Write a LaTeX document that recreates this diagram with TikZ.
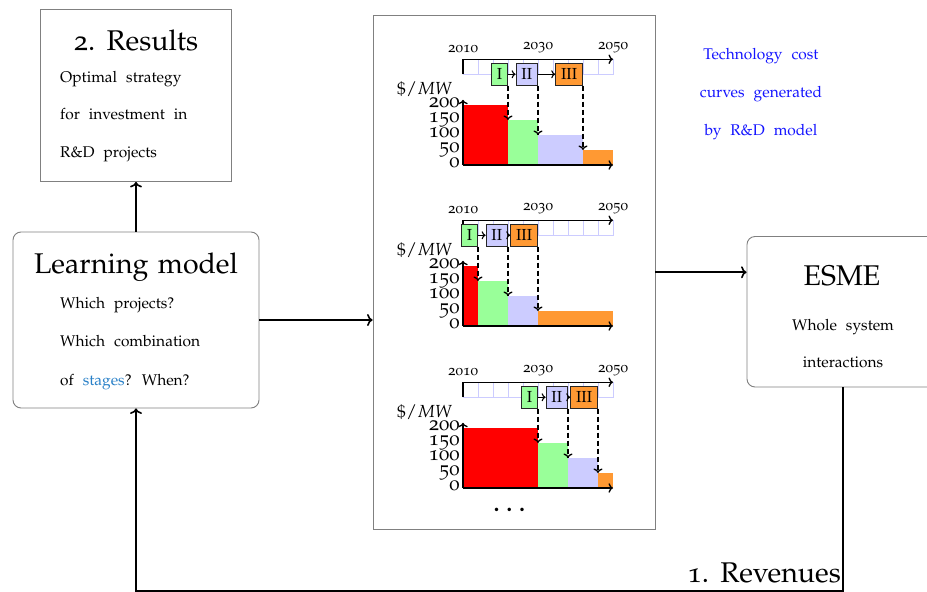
\documentclass[tikz,border=0pt]{standalone}
\usepackage[T1]{fontenc}
\usepackage[osf]{mathpazo}
\usetikzlibrary{arrows.meta}
\definecolor{cred}{RGB}{255,0,0}
\definecolor{cgreen}{RGB}{153,255,153}
\definecolor{clav}{RGB}{204,204,255}
\definecolor{corange}{RGB}{255,153,51}
\definecolor{boxgray}{RGB}{128,128,128}
\definecolor{stagesblue}{RGB}{40,128,200}
\definecolor{techblue}{RGB}{20,20,255}
\newcommand\titlefont{\fontsize{28.5}{30}\selectfont\spaceskip 0.33em\relax}
\newcommand\bodyfont{\fontsize{15.5}{18}\selectfont\spaceskip 9pt\relax}
\tikzset{
  frame/.style={draw=boxgray, line width=0.9pt, inner sep=0pt},
  rframe/.style={frame, rounded corners=8pt},
  conn/.style={line width=1.6pt, -{Computer Modern Rightarrow[length=5.5pt, width=12pt]}},
  titletext/.style={font=\titlefont, inner sep=0pt, anchor=base},
  bodytext/.style={font=\bodyfont, inner sep=0pt, anchor=base west},
  bodyctext/.style={bodytext, anchor=base},
  techtext/.style={bodyctext, text=techblue},
  cell/.style={draw=clav, line width=0.8pt},
  axis/.style={line width=1.3pt, -{Computer Modern Rightarrow[length=4.5pt, width=9.5pt]}},
  year/.style={font=\fontsize{15}{15}\selectfont, inner sep=0pt, anchor=south, yshift=6.5pt},
  ticklab/.style={font=\fontsize{20.5}{21}\selectfont, inner sep=0pt, anchor=mid east},
  unitlab/.style={font=\fontsize{17.5}{18}\selectfont, inner sep=0pt, anchor=base},
  stagebox/.style={draw=black!85, line width=0.6pt, font=\fontsize{16}{16}\selectfont,
    inner xsep=5.5pt, inner ysep=0pt, minimum height=22pt, anchor=east},
  stagearrow/.style={line width=1.1pt, -{Computer Modern Rightarrow[length=4pt, width=8pt]}},
  dasharrow/.style={line width=1.3pt, dash pattern=on 5pt off 3pt,
    -{Computer Modern Rightarrow[length=4.5pt, width=9pt]}},
}
\newcommand\rdchart[5]{%
\begin{scope}[shift={(463,#2)}, x=15pt, y=15pt]
  \fill[cred] (0,0) rectangle (#3,4);
  \fill[cgreen] (#3,0) rectangle (#4,3);
  \fill[clav] (#4,0) rectangle (#5,2);
  \fill[corange] (#5,0) rectangle (10,1);
  \foreach \i in {0,...,9} \draw[cell] (\i,6.05) rectangle ++(1,1);
  \draw[axis] (0,6.05) -- (0,7.05) -- (10,7.05);
  \node[year] (#1ya) at (0,7.05) {2010};
  \node[year] (#1yb) at (5,7.05) {2030};
  \node[year] (#1yc) at (10,7.05) {2050};
  \draw[axis] (0,0) -- (0,4.35);
  \draw[axis] (0,0) -- (10,0);
  \node[ticklab] (#1ta) at (-0.22,0) {0};
  \node[ticklab] (#1tb) at (-0.22,1) {50};
  \node[ticklab] (#1tc) at (-0.22,2) {100};
  \node[ticklab] (#1td) at (-0.22,3) {150};
  \node[ticklab] (#1te) at (-0.22,4) {200};
  \node[unitlab] (#1u) at (-2.55,4.67) {$\$/MW$};
  \node[stagebox, fill=cgreen] (#1s1) at (#3,6.05) {I};
  \node[stagebox, fill=clav] (#1s2) at (#4,6.05) {II};
  \node[stagebox, fill=corange] (#1s3) at (#5,6.05) {III};
  \draw[stagearrow] (#1s1) -- (#1s2);
  \draw[stagearrow] (#1s2) -- (#1s3);
  \coordinate (#1b1) at (#3,3);
  \coordinate (#1b2) at (#4,2);
  \coordinate (#1b3) at (#5,1);
  \draw[dasharrow] (#1s1.south east) -- (#1b1);
  \draw[dasharrow] (#1s2.south east) -- (#1b2);
  \draw[dasharrow] (#1s3.south east) -- (#1b3);
\end{scope}}
\begin{document}
\begin{tikzpicture}[x=1pt, y=-1pt]
\useasboundingbox (0,0) rectangle (927,592);
\clip (0,0) rectangle (927,592);
\fill[white] (0,0) rectangle (927,592);

% boxes
\node[frame, minimum width=191pt, minimum height=172pt] (res) at (136,95.5) {};
\node[rframe, minimum width=246pt, minimum height=176pt] (learn) at (136,320) {};
\node[frame, minimum width=282pt, minimum height=513.5pt] (big) at (514,272.25) {};
\node[rframe, minimum width=192pt, minimum height=150.5pt] (esme) at (843,311.75) {};

% Results text
\node[titletext] (restitle) at (136,50) {2. Results};
\node[bodytext] (res1) at (60,82) {Optimal strategy};
\node[bodytext] (res2) at (60,119.5) {for investment in};
\node[bodytext] (res3) at (60,157) {R\&D projects};

% Learning model text
\node[titletext] (learntitle) at (136,273.3) {Learning model};
\node[bodytext] (learn1) at (60,308.3) {Which projects?};
\node[bodytext] (learn2) at (60,346.5) {Which combination};
\node[bodytext] (learn3) at (60,385) {of \textcolor{stagesblue}{stages}? When?};

% ESME text
\node[titletext] (esmetitle) at (842,285) {ESME};
\node[bodyctext] (esme1) at (843,330) {Whole system};
\node[bodyctext] (esme2) at (843,367) {interactions};

% technology text
\node[techtext] (tech1) at (761,59) {Technology cost};
\node[techtext] (tech2) at (761,97) {curves generated};
\node[techtext] (tech3) at (761,135) {by R\&D model};

% charts
\rdchart{ca}{165}{3}{5}{8}
\rdchart{cb}{326}{1}{3}{5}
\rdchart{cc}{488}{5}{7}{9}
\node[font=\fontsize{30}{30}\selectfont, inner sep=0pt, anchor=base] (dots) at (512,511) {\ldots};

% connectors
\draw[conn] (learn.north) -- (res.south);
\draw[conn] (learn.east) -- (learn.east -| big.west);
\draw[conn] (big.east) -- (big.east -| esme.west);
\draw[conn] (esme.south) -- ++(0,203.5) -| (learn.south);
\node[titletext, anchor=base east] (rev) at (841,582.5) {1. Revenues};
\end{tikzpicture}
\end{document}
